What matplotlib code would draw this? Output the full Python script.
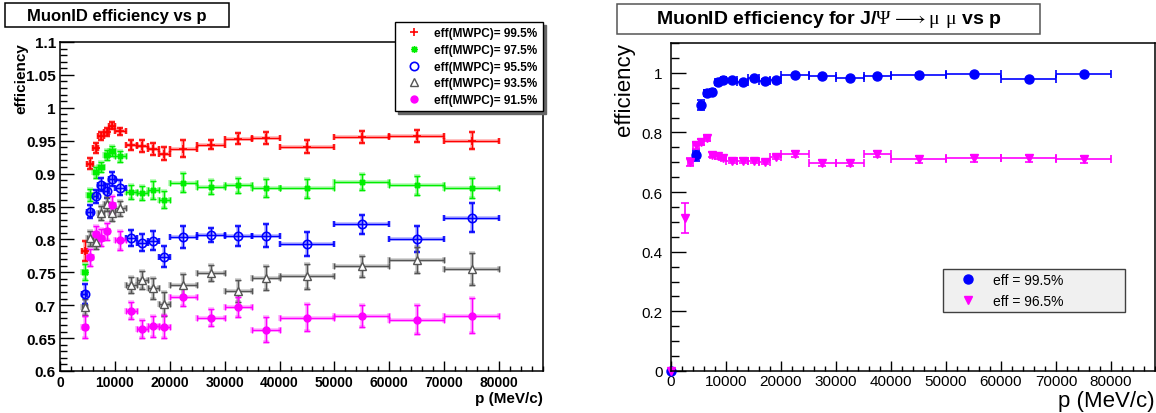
import matplotlib
matplotlib.use('Agg')
from matplotlib import pyplot as plt
from matplotlib.patches import Rectangle
from matplotlib.lines import Line2D
from matplotlib.ticker import MultipleLocator, FuncFormatter

plt.rcParams['font.family'] = ['Liberation Sans', 'DejaVu Sans']
plt.rcParams['mathtext.fontset'] = 'custom'
plt.rcParams['mathtext.rm'] = 'Liberation Serif'

# momentum bins (MeV/c): centres and half widths
p = [4500, 5500, 6500, 7500, 8500, 9500, 11000, 13000, 15000, 17000, 19000,
     22500, 27500, 32500, 37500, 45000, 55000, 65000, 75000]
p_err = [500, 500, 500, 500, 500, 500, 1000, 1000, 1000, 1000, 1000,
         2500, 2500, 2500, 2500, 5000, 5000, 5000, 5000]

# muon ID efficiency for several MWPC efficiencies
eff_995 = [0.782, 0.915, 0.939, 0.957, 0.963, 0.973, 0.964, 0.944, 0.942, 0.937, 0.930,
           0.938, 0.944, 0.953, 0.954, 0.941, 0.956, 0.957, 0.950]
err_995 = [0.015, 0.008, 0.007, 0.006, 0.006, 0.005, 0.006, 0.0076, 0.009, 0.009, 0.010,
           0.0124, 0.0073, 0.008, 0.009, 0.0104, 0.009, 0.0096, 0.0127]
eff_975 = [0.750, 0.867, 0.902, 0.910, 0.928, 0.934, 0.926, 0.872, 0.8705, 0.875, 0.860,
           0.886, 0.880, 0.882, 0.878, 0.878, 0.887, 0.882, 0.878]
err_975 = [0.012, 0.009, 0.008, 0.008, 0.008, 0.008, 0.008, 0.010, 0.011, 0.013, 0.013,
           0.0145, 0.011, 0.012, 0.014, 0.0145, 0.0117, 0.014, 0.015]
eff_955 = [0.7166, 0.842, 0.8655, 0.883, 0.8735, 0.892, 0.8786, 0.8026, 0.795, 0.798, 0.774,
           0.803, 0.8067, 0.8047, 0.8057, 0.7925, 0.823, 0.801, 0.833]
err_955 = [0.015, 0.010, 0.010, 0.010, 0.010, 0.011, 0.011, 0.012, 0.013, 0.0147, 0.0165,
           0.0167, 0.011, 0.015, 0.0175, 0.018, 0.0147, 0.0195, 0.022]
eff_935 = [0.6977, 0.8017, 0.7965, 0.840, 0.8538, 0.8396, 0.847, 0.7307, 0.738, 0.7257, 0.702,
           0.731, 0.749, 0.7216, 0.741, 0.744, 0.759, 0.769, 0.755]
err_935 = [0.012, 0.011, 0.011, 0.011, 0.011, 0.011, 0.011, 0.012, 0.014, 0.016, 0.018,
           0.017, 0.012, 0.016, 0.018, 0.019, 0.016, 0.020, 0.024]
eff_915 = [0.667, 0.773, 0.808, 0.8026, 0.8123, 0.852, 0.7986, 0.6917, 0.6638, 0.6679, 0.6674,
           0.7125, 0.681, 0.697, 0.6628, 0.681, 0.684, 0.678, 0.684]
err_915 = [0.017, 0.013, 0.013, 0.013, 0.013, 0.014, 0.014, 0.013, 0.014, 0.016, 0.017,
           0.014, 0.013, 0.015, 0.019, 0.0205, 0.0167, 0.022, 0.027]

# J/psi -> mu mu sample
p_jpsi_a = [0] + p
p_jpsi_a_err = [0] + p_err
eff_jpsi_a = [0, 0.723, 0.891, 0.933, 0.936, 0.970, 0.975, 0.975, 0.970, 0.981, 0.974, 0.976,
              0.992, 0.989, 0.981, 0.990, 0.994, 0.995, 0.979, 0.995]
err_jpsi_a = [0, 0.018, 0.017, 0.011, 0.008, 0.004, 0.004, 0.004, 0.004, 0.004, 0.004, 0.004,
              0.004, 0.004, 0.004, 0.004, 0.004, 0.004, 0.004, 0.004]
p_jpsi_b = [0, 2500, 3500] + p
p_jpsi_b_err = [0, 0, 500] + p_err
eff_jpsi_b = [0, 0.513, 0.701, 0.757, 0.768, 0.781, 0.726, 0.720, 0.714, 0.704, 0.705, 0.704,
              0.701, 0.718, 0.729, 0.699, 0.699, 0.728, 0.710, 0.714, 0.714, 0.710]
err_jpsi_b = [0, 0.05, 0.012, 0.012, 0.01, 0.01, 0.008, 0.008, 0.008, 0.008, 0.008, 0.008,
              0.008, 0.008, 0.01, 0.01, 0.01, 0.01, 0.012, 0.012, 0.012, 0.012]

W, H = 1156, 414
fig = plt.figure(figsize=(W / 100, H / 100), dpi=100)


def fx(px):
    return px / W


def fy(py):
    return 1 - py / H


def root_axes(ax):
    for s in ax.spines.values():
        s.set_linewidth(1.1)
    ax.tick_params(direction='in', top=False, right=False, which='both', width=1.0)
    ax.yaxis.set_major_formatter(FuncFormatter(lambda v, _: '%g' % v))
    ax.xaxis.set_major_formatter(FuncFormatter(lambda v, _: '%d' % v))


def title_box(x0, y0, x1, y1, text, size, edge):
    fig.patches.append(Rectangle((fx(x0), fy(y1)), fx(x1 - x0), (y1 - y0) / H,
                                 transform=fig.transFigure, facecolor='white',
                                 edgecolor=edge, lw=1.1))
    fig.text(fx((x0 + x1) / 2), fy((y0 + y1) / 2), text, ha='center', va='center',
             fontsize=size, fontweight='bold')


# ---- left: efficiency vs p for different MWPC efficiencies
ax1 = fig.add_axes([fx(60), fy(372), fx(483), 329 / H])
series = [
    (eff_995, err_995, '#ff0000', dict(marker='+', ms=6, mew=1.2, mfc='#ff0000'), 'eff(MWPC)= 99.5%'),
    (eff_975, err_975, '#00ee00', dict(marker=(8, 2, 0), ms=5, mew=1.0, mfc='#00ee00'), 'eff(MWPC)= 97.5%'),
    (eff_955, err_955, '#0000ff', dict(marker='o', ms=6, mew=1.2, mfc='none'), 'eff(MWPC)= 95.5%'),
    (eff_935, err_935, '#555555', dict(marker='^', ms=6, mew=1.0, mfc='white'), 'eff(MWPC)= 93.5%'),
    (eff_915, err_915, '#ff00ff', dict(marker='o', ms=5, mew=1.0, mfc='#ff00ff'), 'eff(MWPC)= 91.5%'),
]
handles = []
for eff, err, col, mk, lab in series:
    ax1.errorbar(p, eff, yerr=err, xerr=p_err, fmt='none', ecolor=col, elinewidth=2.6,
                 capsize=2, capthick=2.6, alpha=0.3)
    ax1.errorbar(p, eff, yerr=err, xerr=p_err, ls='none', color=col, mec=col,
                 elinewidth=1.0, capsize=2, capthick=1.0, **mk)
    handles.append(Line2D([], [], ls='none', color=col, mec=col, label=lab, **mk))

ax1.set_xlim(0, 88000)
ax1.set_ylim(0.6, 1.1)
ax1.xaxis.set_major_locator(MultipleLocator(10000))
ax1.xaxis.set_minor_locator(MultipleLocator(2000))
ax1.yaxis.set_major_locator(MultipleLocator(0.05))
ax1.yaxis.set_minor_locator(MultipleLocator(0.01))
root_axes(ax1)
ax1.tick_params(axis='y', which='major', length=10, labelsize=11, pad=3)
ax1.tick_params(axis='y', which='minor', length=5)
ax1.tick_params(axis='x', which='major', length=7, labelsize=10, pad=3)
ax1.tick_params(axis='x', which='minor', length=3.5)
for t in ax1.get_xticklabels() + ax1.get_yticklabels():
    t.set_fontweight('bold')

leg1 = ax1.legend(handles=handles, loc='upper right', bbox_to_anchor=(1.0, 1.061),
                  borderaxespad=0, prop={'weight': 'bold', 'size': 8.5}, fancybox=False,
                  framealpha=1, edgecolor='black', handlelength=2.3, handletextpad=0.6,
                  labelspacing=0.4, borderpad=0.45,
                  shadow={'ox': 2, 'oy': -2, 'facecolor': '0.4', 'edgecolor': '0.4', 'alpha': 1})
leg1.get_frame().set_linewidth(1.0)

fig.text(fx(21), fy(43), 'efficiency', rotation=90, ha='center', va='top',
         fontsize=11, fontweight='bold')
fig.text(fx(543), fy(399), 'p (MeV/c)', ha='right', va='center', fontsize=11, fontweight='bold')
title_box(5, 4, 229, 28, 'MuonID efficiency vs p', 12, 'black')

# ---- right: J/psi -> mu mu efficiency vs p
ax2 = fig.add_axes([fx(671), fy(372), fx(484), 328 / H])
ax2.errorbar(p_jpsi_a, eff_jpsi_a, yerr=err_jpsi_a, xerr=p_jpsi_a_err, ls='none',
             marker='o', ms=6.5, color='#0000ff', elinewidth=1.2, capsize=3, capthick=1.2,
             clip_on=False, label='eff = 99.5%')
ax2.errorbar(p_jpsi_b, eff_jpsi_b, yerr=err_jpsi_b, xerr=p_jpsi_b_err, ls='none',
             marker='v', ms=6, color='#ff00ff', elinewidth=1.2, capsize=3, capthick=1.2,
             clip_on=False, label='eff = 96.5%')
ax2.set_xlim(0, 88000)
ax2.set_ylim(0, 1.1)
ax2.xaxis.set_major_locator(MultipleLocator(10000))
ax2.xaxis.set_minor_locator(MultipleLocator(2000))
ax2.yaxis.set_major_locator(MultipleLocator(0.2))
ax2.yaxis.set_minor_locator(MultipleLocator(0.05))
root_axes(ax2)
ax2.tick_params(axis='y', which='major', length=11, labelsize=11, pad=6)
ax2.tick_params(axis='y', which='minor', length=5.5)
ax2.tick_params(axis='x', which='major', length=7, labelsize=11, pad=2)
ax2.tick_params(axis='x', which='minor', length=3.5)

h2, l2 = ax2.get_legend_handles_labels()
h2 = [Line2D([], [], ls='none', marker=m, ms=s, color=c)
      for m, s, c in [('o', 6.5, '#0000ff'), ('v', 6, '#ff00ff')]]
leg2 = ax2.legend(h2, l2, loc='upper left', bbox_to_anchor=(0.562, 0.186, 0.376, 0.125),
                  mode='expand', borderaxespad=0, fontsize=10, fancybox=False,
                  framealpha=1, facecolor='#f0f0f0', edgecolor='#404040',
                  handlelength=3.0, handletextpad=0.3, labelspacing=0.5, borderpad=0.3)
leg2.get_frame().set_linewidth(1.0)

fig.text(fx(625), fy(43), 'efficiency', rotation=90, ha='center', va='top', fontsize=16)
fig.text(fx(1155), fy(402), 'p (MeV/c)', ha='right', va='center', fontsize=16)
title_box(617, 5, 1040, 35,
          r'MuonID efficiency for J/$\mathrm{\Psi}\longrightarrow\mathrm{\mu}\ \mathrm{\mu}$ vs p',
          14, '#555555')

fig.savefig('out.png', dpi=100)
